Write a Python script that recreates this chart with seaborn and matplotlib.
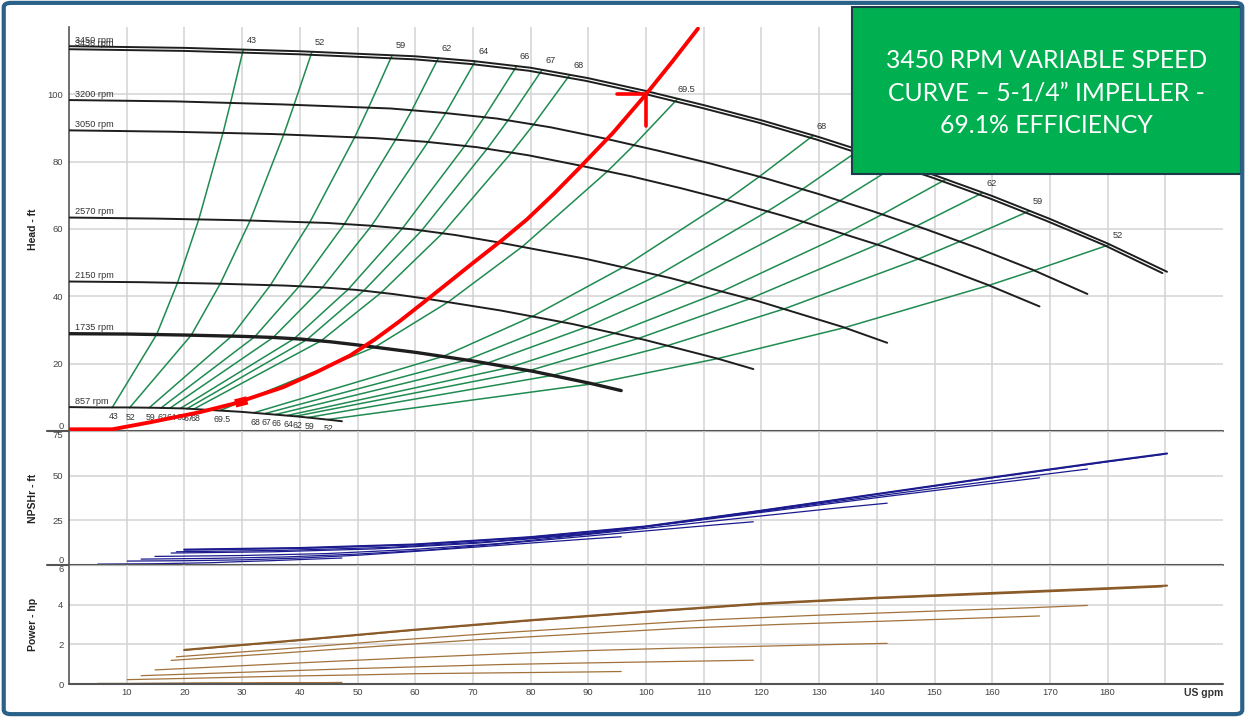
import matplotlib
matplotlib.use("Agg")
import matplotlib.pyplot as plt
import seaborn as sns
from matplotlib.patches import Rectangle, FancyBboxPatch

# ---------------- data ----------------
# Head curves (US gpm, ft) for each speed
q_3450 = [0, 20, 40, 60, 70, 80, 90, 100, 110, 120, 130, 140, 150, 160, 170, 180, 190.3]
h_3450 = [114.3, 113.8, 112.8, 111.3, 109.9, 107.9, 104.8, 101.0, 96.8, 92.3, 87.3, 81.8, 76.0, 69.8, 63.0, 55.7, 47.3]
q_3436 = [0, 19.9, 39.8, 59.8, 69.7, 79.7, 89.6, 99.6, 109.6, 119.5, 129.5, 139.4, 149.4, 159.4, 169.3, 179.3, 189.5]
h_3436 = [113.4, 112.9, 111.9, 110.4, 109.0, 107.0, 104.0, 100.2, 96.0, 91.6, 86.6, 81.1, 75.4, 69.2, 62.5, 55.3, 46.9]
q_3200 = [0, 18.6, 37.1, 55.7, 64.9, 74.2, 83.5, 92.8, 102.0, 111.3, 120.6, 129.9, 139.1, 148.4, 157.7, 167.0, 176.5]
h_3200 = [98.3, 97.9, 97.0, 95.8, 94.5, 92.8, 90.2, 86.9, 83.3, 79.4, 75.1, 70.4, 65.4, 60.0, 54.2, 47.9, 40.7]
q_3050 = [0, 17.7, 35.4, 53.0, 61.9, 70.7, 79.6, 88.4, 97.3, 106.1, 114.9, 123.8, 132.6, 141.5, 150.3, 159.1, 168.2]
h_3050 = [89.3, 88.9, 88.2, 87.0, 85.9, 84.3, 81.9, 78.9, 75.7, 72.1, 68.2, 63.9, 59.4, 54.6, 49.2, 43.5, 37.0]
q_2570 = [0, 14.9, 29.8, 44.7, 52.1, 59.6, 67.0, 74.5, 89.4, 104.3, 119.2, 134.1, 141.8]
h_2570 = [63.4, 63.1, 62.6, 61.8, 61.0, 59.9, 58.2, 56.0, 51.2, 45.4, 38.7, 30.9, 26.2]
q_2150 = [0, 12.5, 24.9, 37.4, 43.6, 49.9, 56.1, 62.3, 74.8, 87.2, 99.7, 112.2, 118.6]
h_2150 = [44.4, 44.2, 43.8, 43.2, 42.7, 41.9, 40.7, 39.2, 35.8, 31.8, 27.1, 21.6, 18.4]
q_1735 = [0, 10.1, 20.1, 30.2, 35.2, 40.2, 45.3, 50.3, 60.3, 70.4, 80.5, 90.5, 95.7]
h_1735 = [28.9, 28.8, 28.5, 28.1, 27.8, 27.3, 26.5, 25.5, 23.3, 20.7, 17.7, 14.1, 12.0]
q_857 = [0, 5.0, 9.9, 14.9, 19.9, 24.8, 29.8, 34.8, 39.7, 44.7, 47.3]
h_857 = [7.1, 7.0, 7.0, 6.9, 6.7, 6.2, 5.7, 5.0, 4.3, 3.4, 2.9]

speed_labels = ["3450 rpm", "3436 rpm", "3200 rpm", "3050 rpm",
                "2570 rpm", "2150 rpm", "1735 rpm", "857 rpm"]

# Iso-efficiency lines: points from the 3450 curve down to the 857 curve
eff_labels = ["43", "52", "59", "62", "64", "66", "67", "68", "69.5",
              "68", "67", "66", "64", "62", "59", "52"]
eff_q = [
    [30.2, 28.0, 26.7, 22.5, 18.8, 15.2, 7.5],
    [42.1, 39.0, 37.2, 31.4, 26.2, 21.2, 10.5],
    [56.0, 51.9, 49.5, 41.7, 34.9, 28.2, 13.9],
    [64.0, 59.4, 56.6, 47.7, 39.9, 32.2, 15.9],
    [70.4, 65.3, 62.2, 52.4, 43.9, 35.4, 17.5],
    [77.6, 72.0, 68.6, 57.8, 48.4, 39.0, 19.3],
    [82.0, 76.1, 72.5, 61.1, 51.1, 41.2, 20.4],
    [86.8, 80.5, 76.7, 64.7, 54.1, 43.7, 21.6],
    [105.5, 97.9, 93.3, 78.6, 65.7, 53.1, 26.2],
    [129.0, 119.6, 114.0, 96.1, 80.4, 64.9, 32.0],
    [137.0, 127.1, 121.1, 102.1, 85.4, 68.9, 34.0],
    [144.0, 133.6, 127.3, 107.3, 89.7, 72.4, 35.8],
    [152.0, 141.0, 134.4, 113.2, 94.7, 76.4, 37.8],
    [158.4, 146.9, 140.0, 118.0, 98.7, 79.7, 39.3],
    [166.5, 154.4, 147.2, 124.0, 103.8, 83.7, 41.4],
    [180.4, 167.3, 159.5, 134.4, 112.4, 90.7, 44.8],
]
eff_h = [
    [113.3, 97.5, 88.6, 62.9, 44.0, 28.7, 7.0],
    [112.6, 96.9, 88.0, 62.5, 43.7, 28.5, 6.9],
    [111.6, 96.0, 87.2, 61.9, 43.3, 28.2, 6.9],
    [110.7, 95.2, 86.5, 61.4, 43.0, 28.0, 6.8],
    [109.8, 94.5, 85.8, 60.9, 42.6, 27.8, 6.8],
    [108.4, 93.3, 84.7, 60.2, 42.1, 27.4, 6.7],
    [107.3, 92.3, 83.9, 59.5, 41.7, 27.1, 6.6],
    [105.8, 91.0, 82.7, 58.7, 41.1, 26.8, 6.5],
    [98.7, 84.9, 77.1, 54.8, 38.3, 25.0, 6.1],
    [87.8, 75.5, 68.6, 48.7, 34.1, 22.2, 5.4],
    [83.5, 71.8, 65.3, 46.3, 32.4, 21.1, 5.2],
    [79.5, 68.4, 62.1, 44.1, 30.9, 20.1, 4.9],
    [74.8, 64.4, 58.5, 41.5, 29.1, 18.9, 4.6],
    [70.8, 60.9, 55.3, 39.3, 27.5, 17.9, 4.4],
    [65.4, 56.3, 51.1, 36.3, 25.4, 16.5, 4.0],
    [55.4, 47.7, 43.3, 30.7, 21.5, 14.0, 3.4],
]

# System curve (red) and duty point
sys_q = [0, 7.5, 14.1, 22.7, 28.5, 37.1, 42.9, 48.7, 53.0, 57.3, 61.9, 66, 70, 75.2, 79.4, 84.0, 88.6, 94.3, 100, 104.5, 109]
sys_h = [0.5, 0.5, 2.6, 5.6, 8.1, 13.0, 17.5, 22.4, 27.2, 32.6, 38.8, 44.4, 49.9, 56.9, 62.9, 70.4, 78.4, 88.6, 100.0, 109.6, 119.5]
mark_q = [28.8, 30.9]
mark_h = [8.2, 9.1]
duty_q = 100.0
duty_h = 100.0
duty_arm_q = 5.0
duty_arm_h = 9.5

# NPSHr curves (ft)
nq_3450 = [20, 40, 60, 80, 100, 120, 140, 160, 180, 190.3]
nv_3450 = [8.6, 9.5, 11.5, 15.6, 21.6, 30.4, 39.7, 49.0, 58.0, 62.4]
nq_3436 = [19.9, 39.8, 59.8, 79.7, 99.6, 119.5, 139.4, 159.4, 179.3, 189.5]
nv_3436 = [8.5, 9.4, 11.4, 15.5, 21.4, 30.2, 39.4, 48.6, 57.5, 61.9]
nq_3200 = [18.6, 37.1, 55.7, 74.2, 92.8, 111.3, 129.9, 148.4, 167.0, 176.5]
nv_3200 = [7.4, 8.2, 9.9, 13.4, 18.6, 26.2, 34.2, 42.2, 49.9, 53.7]
nq_3050 = [17.7, 35.4, 53.0, 70.7, 88.4, 106.1, 123.8, 141.5, 159.1, 168.2]
nv_3050 = [6.7, 7.4, 9.0, 12.2, 16.9, 23.8, 31.0, 38.3, 45.3, 48.8]
nq_2570 = [14.9, 29.8, 44.7, 59.6, 74.5, 89.4, 104.3, 119.2, 134.1, 141.8]
nv_2570 = [4.8, 5.3, 6.4, 8.7, 12.0, 16.9, 22.0, 27.2, 32.2, 34.6]
nq_2150 = [12.5, 24.9, 37.4, 49.9, 62.3, 74.8, 87.2, 99.7, 112.2, 118.6]
nv_2150 = [3.3, 3.7, 4.5, 6.1, 8.4, 11.8, 15.4, 19.0, 22.5, 24.2]
nq_1735 = [10.1, 20.1, 30.2, 40.2, 50.3, 60.3, 70.4, 80.5, 90.5, 95.7]
nv_1735 = [2.2, 2.4, 2.9, 3.9, 5.5, 7.7, 10.0, 12.4, 14.7, 15.8]
nq_857 = [5.0, 9.9, 14.9, 19.9, 24.8, 29.8, 34.8, 39.7, 44.7, 47.3]
nv_857 = [0.5, 0.6, 0.7, 1.0, 1.3, 1.9, 2.4, 3.0, 3.6, 3.9]

# Power curves (hp)
pv_3450 = [1.72, 2.22, 2.74, 3.22, 3.65, 4.06, 4.35, 4.59, 4.83, 4.96]
pv_3436 = [1.70, 2.19, 2.71, 3.18, 3.61, 4.01, 4.30, 4.53, 4.77, 4.90]
pv_3200 = [1.37, 1.77, 2.19, 2.57, 2.91, 3.24, 3.47, 3.66, 3.85, 3.96]
pv_3050 = [1.19, 1.53, 1.89, 2.23, 2.52, 2.81, 3.01, 3.17, 3.34, 3.43]
pv_2570 = [0.71, 0.92, 1.13, 1.33, 1.51, 1.68, 1.80, 1.90, 2.00, 2.05]
pv_2150 = [0.42, 0.54, 0.66, 0.78, 0.88, 0.98, 1.05, 1.11, 1.17, 1.20]
pv_1735 = [0.22, 0.28, 0.35, 0.41, 0.46, 0.52, 0.55, 0.58, 0.61, 0.63]
pv_857 = [0.03, 0.03, 0.04, 0.05, 0.06, 0.06, 0.07, 0.07, 0.07, 0.08]

x_ticks = [10, 20, 30, 40, 50, 60, 70, 80, 90, 100, 110, 120, 130, 140, 150, 160, 170, 180, 190]
x_tick_labels = ["10", "20", "30", "40", "50", "60", "70", "80", "90", "100", "110",
                 "120", "130", "140", "150", "160", "170", "180", ""]
head_ticks = [0, 20, 40, 60, 80, 100]
npsh_ticks = [0, 25, 50, 75]
power_ticks = [0, 2, 4, 6]
title_text = "3450 RPM VARIABLE SPEED\nCURVE \u2013 5-1/4\u201d IMPELLER -\n69.1% EFFICIENCY"

# ---------------- drawing ----------------
sns.set_theme(style="white")
plt.rcParams['font.family'] = ['Liberation Sans', 'DejaVu Sans']

W_PX, H_PX = 1246, 717
fig = plt.figure(figsize=(W_PX / 100, H_PX / 100), dpi=100)
left = 69 / W_PX
width = 1154 / W_PX
ax_h = fig.add_axes([left, 1 - 431 / H_PX, width, 404 / H_PX])
ax_n = fig.add_axes([left, 1 - 565 / H_PX, width, 134 / H_PX])
ax_p = fig.add_axes([left, 1 - 684 / H_PX, width, 119 / H_PX])

GRID = '#d3d3d3'
TICKC = '#444444'


def line(ax, q, h, color, lw, z=3, cap='round'):
    sns.lineplot(x=q, y=h, ax=ax, color=color, linewidth=lw, sort=False,
                 estimator=None, legend=False, zorder=z, solid_capstyle=cap)


for ax, ylim, yt in [(ax_h, (0, 120), head_ticks), (ax_n, (0, 75), npsh_ticks),
                     (ax_p, (0, 6), power_ticks)]:
    ax.set_xlim(0, 200)
    ax.set_ylim(*ylim)
    ax.set_xticks(x_ticks)
    ax.set_yticks(yt)
    ax.grid(True, color=GRID, linewidth=1.1, zorder=0)
    ax.set_axisbelow(True)
    for s in ['top', 'right', 'bottom']:
        ax.spines[s].set_visible(False)
    ax.spines['left'].set_color('#555555')
    ax.spines['left'].set_linewidth(1.2)
    ax.tick_params(axis='both', length=0, labelsize=6.8, labelcolor=TICKC, pad=4)
    ax.set_facecolor('none')

ax_h.tick_params(axis='x', labelbottom=False)
ax_n.tick_params(axis='x', labelbottom=False)
ax_p.set_xticklabels(x_tick_labels)
ax_p.tick_params(axis='x', pad=3)

# separators (extending slightly left of the axis like the reference)
ax_h.axhline(0, xmin=-0.019, xmax=1, color='#555555', lw=1.5, clip_on=False, zorder=5)
ax_n.axhline(0, xmin=-0.019, xmax=1, color='#555555', lw=1.5, clip_on=False, zorder=5)
ax_p.axhline(0, xmin=0, xmax=1, color='#555555', lw=1.5, clip_on=False, zorder=5)

# tick label alignment at the panel edges
ax_h.get_yticklabels()[0].set_va('bottom')
ax_n.get_yticklabels()[0].set_va('bottom')
ax_n.get_yticklabels()[-1].set_va('top')
ax_p.get_yticklabels()[-1].set_va('top')

# axis titles
for ax, lab in [(ax_h, 'Head - ft'), (ax_n, 'NPSHr - ft'), (ax_p, 'Power - hp')]:
    ax.set_ylabel(lab, fontsize=7.5, fontweight='bold', color='#222222')
    ax.yaxis.set_label_coords(-0.027, 0.5)

ax_p.annotate('US gpm', xy=(1.0, 0), xycoords='axes fraction', xytext=(0, -3),
              textcoords='offset points', ha='right', va='top', fontsize=7.5,
              fontweight='bold', color='#333333')

# ---- head panel ----
GREEN = '#1f8b50'
for lab, q, h in zip(eff_labels, eff_q, eff_h):
    line(ax_h, q, h, GREEN, 1.1, z=3)
    ax_h.annotate(lab, xy=(q[0], h[0]), xytext=(6, 3.5), textcoords='offset points',
                  ha='center', va='bottom', fontsize=6.6, color='#333333')
    ax_h.annotate(lab, xy=(q[-1], h[-1]), xytext=(1, -3.5), textcoords='offset points',
                  ha='center', va='top', fontsize=6.3, color='#333333')

head_q = [q_3450, q_3436, q_3200, q_3050, q_2570, q_2150, q_1735, q_857]
head_h = [h_3450, h_3436, h_3200, h_3050, h_2570, h_2150, h_1735, h_857]
for lab, q, h in zip(speed_labels, head_q, head_h):
    lw = 2.4 if lab.startswith('1735') else 1.4
    line(ax_h, q, h, '#1e1e1e', lw, z=4)
    ax_h.annotate(lab, xy=(q[0], h[0]), xytext=(4, 1), textcoords='offset points',
                  ha='left', va='bottom', fontsize=6.6, color='#333333')

line(ax_h, sys_q, sys_h, '#ff0000', 2.8, z=6)
line(ax_h, mark_q, mark_h, '#ff0000', 6.0, z=6, cap='butt')
line(ax_h, [duty_q - duty_arm_q, duty_q], [duty_h, duty_h], '#ff0000', 2.6, z=6)
line(ax_h, [duty_q, duty_q], [duty_h, duty_h - duty_arm_h], '#ff0000', 2.6, z=6)

# ---- NPSH panel ----
NAVY = '#1b1b8f'
npsh_q = [nq_3450, nq_3436, nq_3200, nq_3050, nq_2570, nq_2150, nq_1735, nq_857]
npsh_v = [nv_3450, nv_3436, nv_3200, nv_3050, nv_2570, nv_2150, nv_1735, nv_857]
for i, (q, v) in enumerate(zip(npsh_q, npsh_v)):
    line(ax_n, q, v, NAVY, 1.5 if i == 0 else 0.9, z=3)

# ---- power panel ----
power_v = [pv_3450, pv_3436, pv_3200, pv_3050, pv_2570, pv_2150, pv_1735, pv_857]
for i, (q, v) in enumerate(zip(npsh_q, power_v)):
    line(ax_p, q, v, '#8a5a28' if i < 2 else '#a2723c', 1.5 if i == 0 else 0.9, z=3)

# ---- green title box ----
box = Rectangle((852 / W_PX, 1 - 174 / H_PX), 389 / W_PX, 167 / H_PX,
                transform=fig.transFigure, facecolor='#00b050',
                edgecolor='#1c3a4a', linewidth=1.5, zorder=20)
fig.add_artist(box)
fig.text(1046.5 / W_PX, 1 - 93 / H_PX, title_text, ha='center', va='center',
         color='white', fontsize=17.8, family=['Lato', 'DejaVu Sans'],
         linespacing=1.52, zorder=21)

# ---- outer frame ----
frame = FancyBboxPatch((0.003, 0.004), 0.994, 0.992,
                       boxstyle='round,pad=0,rounding_size=0.006',
                       transform=fig.transFigure, fill=False,
                       edgecolor='#2a6188', linewidth=3, zorder=30)
fig.add_artist(frame)

fig.savefig('out.png', dpi=100, facecolor='white')
